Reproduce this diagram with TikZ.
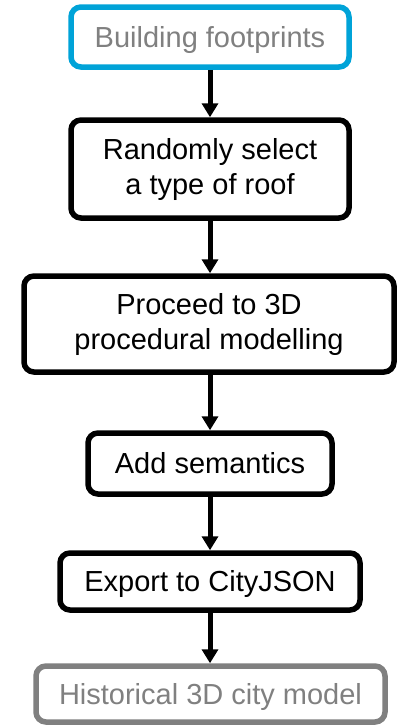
\documentclass[tikz,border=0pt]{standalone}
\usepackage{fontspec}
\setmainfont{Liberation Sans}
\usetikzlibrary{arrows.meta}
\definecolor{boxblue}{RGB}{0,163,216}
\definecolor{txtgray}{RGB}{128,128,128}
\tikzset{
  stepbox/.style={draw=black, line width=5.5pt, rounded corners=10pt, fill=white,
    inner sep=0pt, align=center, font=\fontsize{29}{35}\selectfont, text=black},
  oneline/.style={text height=20pt, text depth=0pt},
  endbox/.style={stepbox, oneline, text=txtgray},
  arr/.style={line width=5pt, -{Triangle[width=16pt,length=14pt]}}
}
\begin{document}
\begin{tikzpicture}[x=1pt,y=-1pt]
\useasboundingbox (0,0) rectangle (397,726);
\node[endbox, draw=boxblue, minimum width=278pt, minimum height=60pt] (b1) at (210,37) {Building footprints};
\node[stepbox, minimum width=278pt, minimum height=98pt] (b2) at (210,169) {Randomly select\\a type of roof};
\node[stepbox, minimum width=370pt, minimum height=96pt] (b3) at (209,324) {Proceed to 3D\\procedural modelling};
\node[stepbox, oneline, minimum width=244pt, minimum height=61pt] (b4) at (210,463.5) {Add semantics};
\node[stepbox, oneline, minimum width=300pt, minimum height=57pt] (b5) at (210,581.5) {Export to CityJSON};
\node[endbox, draw=txtgray, minimum width=349pt, minimum height=56pt] (b6) at (210.5,694) {Historical 3D city model};
\draw[arr] (b1.south) -- (b2.north);
\draw[arr] (b2.south) -- (b2.south |- b3.north);
\draw[arr] (b4.north |- b3.south) -- (b4.north);
\draw[arr] (b4.south) -- (b5.north);
\draw[arr] (b5.south) -- (b5.south |- b6.north);
\end{tikzpicture}
\end{document}
